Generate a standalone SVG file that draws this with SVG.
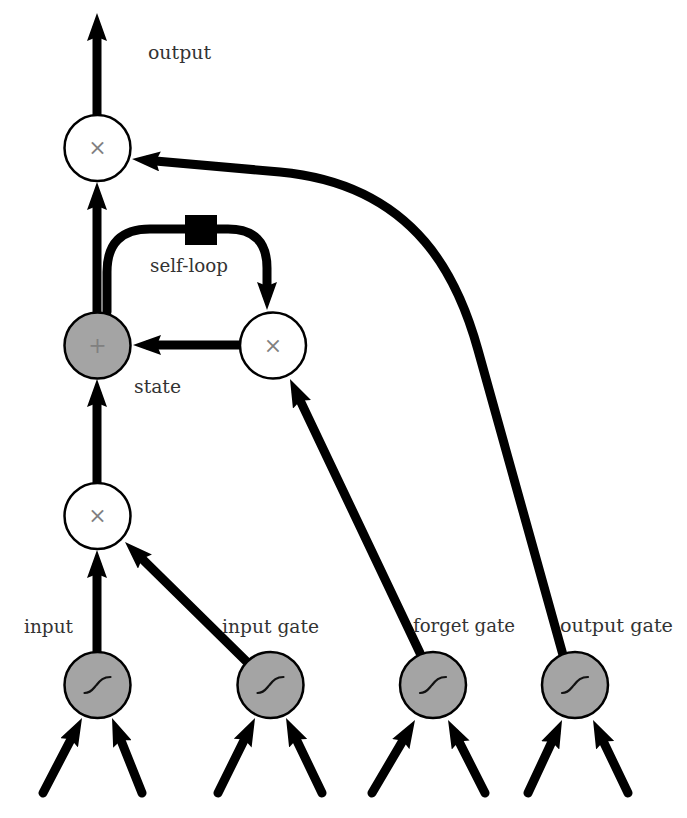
<svg xmlns="http://www.w3.org/2000/svg" width="687" height="818" viewBox="0 0 687 818">
<style>
.node{stroke:#000;stroke-width:2.5}
.w{fill:#fff}
.g{fill:#a4a4a4}
.op{font-family:"DejaVu Serif","Liberation Serif",serif;font-size:22px;fill:#808080;text-anchor:middle}
.lbl{font-family:"DejaVu Serif","Liberation Serif",serif;font-size:19px;fill:#333}
.sig{fill:none;stroke:#111;stroke-width:2.2;stroke-linecap:round}
.e{fill:none;stroke:#000;stroke-width:9;stroke-linecap:round;stroke-linejoin:round}
</style>
<defs>
<marker id="ah" viewBox="0 0 28 20" refX="13" refY="10" markerWidth="28" markerHeight="20" markerUnits="userSpaceOnUse" orient="auto">
<path d="M0,0 L28,10 L0,20 L4,10 Z" fill="#000"/>
</marker>
</defs>
<rect width="687" height="818" fill="#fff"/>
<g id="connectors">
<path class="e" d="M97,115 L97,28" marker-end="url(#ah)"/>
<path class="e" d="M97,312 L97,197" marker-end="url(#ah)"/>
<path class="e" d="M97,483 L97,394" marker-end="url(#ah)"/>
<path class="e" d="M97,652 L97,565" marker-end="url(#ah)"/>
<path class="e" d="M247,662 L135.7,552.5" marker-end="url(#ah)"/>
<path class="e" d="M240,345 L148,345" marker-end="url(#ah)"/>
<path class="e" d="M107,312 L107,272 Q107,229 150,229 L228,229 Q267,229 267,268 L267,295" marker-end="url(#ah)"/>
<path class="e" d="M420,653 L296.4,392.6" marker-end="url(#ah)"/>
<path class="e" d="M563,655 L478,350 C460,285 420,185 280,172 L147,160.3" marker-end="url(#ah)"/>
<path class="e" d="M43,793 L75.1,731.3" marker-end="url(#ah)"/>
<path class="e" d="M142,793 L117.6,731.9" marker-end="url(#ah)"/>
<path class="e" d="M218,793 L248.4,731.5" marker-end="url(#ah)"/>
<path class="e" d="M322,793 L292.5,731.5" marker-end="url(#ah)"/>
<path class="e" d="M372,793 L407.4,732.9" marker-end="url(#ah)"/>
<path class="e" d="M485,793 L454.8,733.4" marker-end="url(#ah)"/>
<path class="e" d="M528,793 L555.7,733.6" marker-end="url(#ah)"/>
<path class="e" d="M628,793 L599.5,733.5" marker-end="url(#ah)"/>
<rect id="delay" x="185" y="215" width="32" height="30" fill="#000"/>
</g>
<g id="out-mult"><circle class="node w" cx="97.5" cy="148" r="33"/><text class="op" x="97.5" y="155">×</text></g>
<g id="state"><circle class="node g" cx="97.5" cy="345.5" r="33"/><text class="op" x="97.5" y="353">+</text></g>
<g id="forget-mult"><circle class="node w" cx="273" cy="345.5" r="33"/><text class="op" x="273" y="353">×</text></g>
<g id="in-mult"><circle class="node w" cx="97.5" cy="516" r="33"/><text class="op" x="97.5" y="523">×</text></g>
<g id="input"><circle class="node g" cx="97.5" cy="685" r="33"/><path class="sig" transform="translate(97.5,685)" d="M-13,8 C-6,8 -4,3 -1,0 C3,-5 6,-8 13,-8"/></g>
<g id="input-gate"><circle class="node g" cx="270.5" cy="685" r="33"/><path class="sig" transform="translate(270.5,685)" d="M-13,8 C-6,8 -4,3 -1,0 C3,-5 6,-8 13,-8"/></g>
<g id="forget-gate"><circle class="node g" cx="433" cy="685" r="33"/><path class="sig" transform="translate(433,685)" d="M-13,8 C-6,8 -4,3 -1,0 C3,-5 6,-8 13,-8"/></g>
<g id="output-gate"><circle class="node g" cx="575" cy="685" r="33"/><path class="sig" transform="translate(575,685)" d="M-13,8 C-6,8 -4,3 -1,0 C3,-5 6,-8 13,-8"/></g>
<g id="labels">
<text class="lbl" x="148" y="59" textLength="63" lengthAdjust="spacingAndGlyphs">output</text>
<text class="lbl" x="150" y="272" textLength="78" lengthAdjust="spacingAndGlyphs">self-loop</text>
<text class="lbl" x="134" y="393" textLength="47" lengthAdjust="spacingAndGlyphs">state</text>
<text class="lbl" x="24" y="633" textLength="49" lengthAdjust="spacingAndGlyphs">input</text>
<text class="lbl" x="222" y="633" textLength="97" lengthAdjust="spacingAndGlyphs">input gate</text>
<text class="lbl" x="413" y="632" textLength="102" lengthAdjust="spacingAndGlyphs">forget gate</text>
<text class="lbl" x="560" y="632" textLength="113" lengthAdjust="spacingAndGlyphs">output gate</text>
</g>
</svg>
